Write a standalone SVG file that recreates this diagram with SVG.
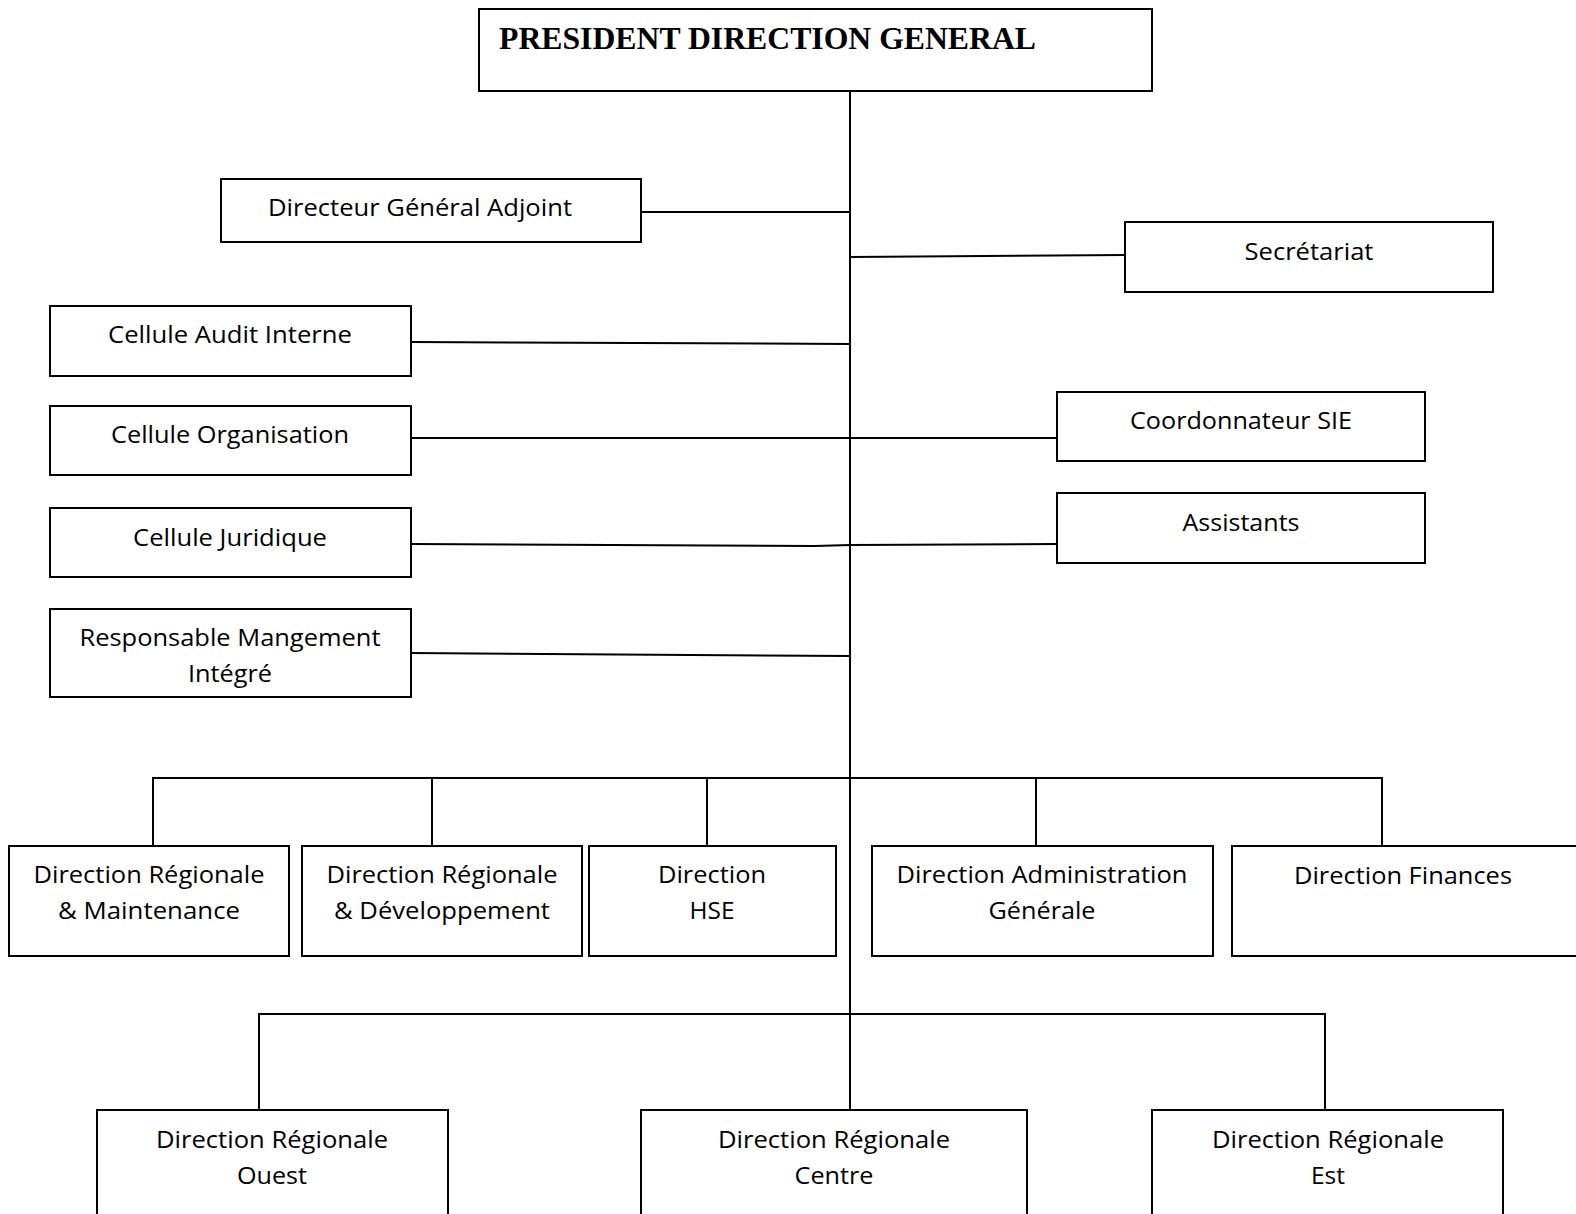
<svg xmlns="http://www.w3.org/2000/svg" width="1576" height="1214" viewBox="0 0 1576 1214">
<style>
.box{fill:#fff;stroke:#000;stroke-width:2}
.t{font-family:"Open Sans","Noto Sans",sans-serif;font-size:24px;fill:#000;text-anchor:middle}
.title{font-family:"Liberation Serif","Times New Roman",serif;font-weight:bold;font-size:32px;fill:#000}
.c{fill:none;stroke:#000;stroke-width:2}
</style>
<rect width="1576" height="1214" fill="#fff"/>
<g id="connectors">
<path class="c" d="M850 91 V1110"/>
<path class="c" d="M641 212 H850"/>
<path class="c" d="M850 257 L1125 255"/>
<path class="c" d="M411 342 L850 344"/>
<path class="c" d="M411 438 H1057"/>
<path class="c" d="M411 544 L815 546 L850 545 L1057 544"/>
<path class="c" d="M411 653 L850 656"/>
<path class="c" d="M153 846 V778 H1382 V846"/>
<path class="c" d="M432 778 V846 M707 778 V846 M1036 778 V846"/>
<path class="c" d="M259 1110 V1014 H1325 V1110"/>
</g>
<g id="pdg"><rect class="box" x="479" y="9" width="673" height="82"/><text class="title" x="499" y="49" textLength="537" lengthAdjust="spacingAndGlyphs">PRESIDENT DIRECTION GENERAL</text></g>
<g id="dga"><rect class="box" x="221" y="179" width="420" height="63"/><text class="t" x="420" y="216" textLength="304" lengthAdjust="spacingAndGlyphs">Directeur Général Adjoint</text></g>
<g id="secretariat"><rect class="box" x="1125" y="222" width="368" height="70"/><text class="t" x="1309" y="260" textLength="129" lengthAdjust="spacingAndGlyphs">Secrétariat</text></g>
<g id="audit"><rect class="box" x="50" y="306" width="361" height="70"/><text class="t" x="230" y="343" textLength="244" lengthAdjust="spacingAndGlyphs">Cellule Audit Interne</text></g>
<g id="organisation"><rect class="box" x="50" y="406" width="361" height="69"/><text class="t" x="230" y="443" textLength="238" lengthAdjust="spacingAndGlyphs">Cellule Organisation</text></g>
<g id="sie"><rect class="box" x="1057" y="392" width="368" height="69"/><text class="t" x="1241" y="429" textLength="222" lengthAdjust="spacingAndGlyphs">Coordonnateur SIE</text></g>
<g id="juridique"><rect class="box" x="50" y="508" width="361" height="69"/><text class="t" x="230" y="546" textLength="194" lengthAdjust="spacingAndGlyphs">Cellule Juridique</text></g>
<g id="assistants"><rect class="box" x="1057" y="493" width="368" height="70"/><text class="t" x="1241" y="531" textLength="117" lengthAdjust="spacingAndGlyphs">Assistants</text></g>
<g id="rmi"><rect class="box" x="50" y="609" width="361" height="88"/><text class="t" x="230" y="646" textLength="301" lengthAdjust="spacingAndGlyphs">Responsable Mangement</text><text class="t" x="230" y="682" textLength="84" lengthAdjust="spacingAndGlyphs">Intégré</text></g>
<g id="drm"><rect class="box" x="9" y="846" width="280" height="110"/><text class="t" x="149" y="883" textLength="231" lengthAdjust="spacingAndGlyphs">Direction Régionale</text><text class="t" x="149" y="919" textLength="182" lengthAdjust="spacingAndGlyphs">&amp; Maintenance</text></g>
<g id="drd"><rect class="box" x="302" y="846" width="280" height="110"/><text class="t" x="442" y="883" textLength="231" lengthAdjust="spacingAndGlyphs">Direction Régionale</text><text class="t" x="442" y="919" textLength="216" lengthAdjust="spacingAndGlyphs">&amp; Développement</text></g>
<g id="hse"><rect class="box" x="589" y="846" width="247" height="110"/><text class="t" x="712" y="883" textLength="108" lengthAdjust="spacingAndGlyphs">Direction</text><text class="t" x="712" y="919" textLength="45" lengthAdjust="spacingAndGlyphs">HSE</text></g>
<g id="dag"><rect class="box" x="872" y="846" width="341" height="110"/><text class="t" x="1042" y="883" textLength="291" lengthAdjust="spacingAndGlyphs">Direction Administration</text><text class="t" x="1042" y="919" textLength="107" lengthAdjust="spacingAndGlyphs">Générale</text></g>
<g id="finances"><rect class="box" x="1232" y="846" width="350" height="110"/><text class="t" x="1403" y="884" textLength="218" lengthAdjust="spacingAndGlyphs">Direction Finances</text></g>
<g id="ouest"><rect class="box" x="97" y="1110" width="351" height="112"/><text class="t" x="272" y="1148" textLength="232" lengthAdjust="spacingAndGlyphs">Direction Régionale</text><text class="t" x="272" y="1184" textLength="70" lengthAdjust="spacingAndGlyphs">Ouest</text></g>
<g id="centre"><rect class="box" x="641" y="1110" width="386" height="112"/><text class="t" x="834" y="1148" textLength="232" lengthAdjust="spacingAndGlyphs">Direction Régionale</text><text class="t" x="834" y="1184" textLength="79" lengthAdjust="spacingAndGlyphs">Centre</text></g>
<g id="est"><rect class="box" x="1152" y="1110" width="351" height="112"/><text class="t" x="1328" y="1148" textLength="232" lengthAdjust="spacingAndGlyphs">Direction Régionale</text><text class="t" x="1328" y="1184" textLength="34" lengthAdjust="spacingAndGlyphs">Est</text></g>
</svg>
